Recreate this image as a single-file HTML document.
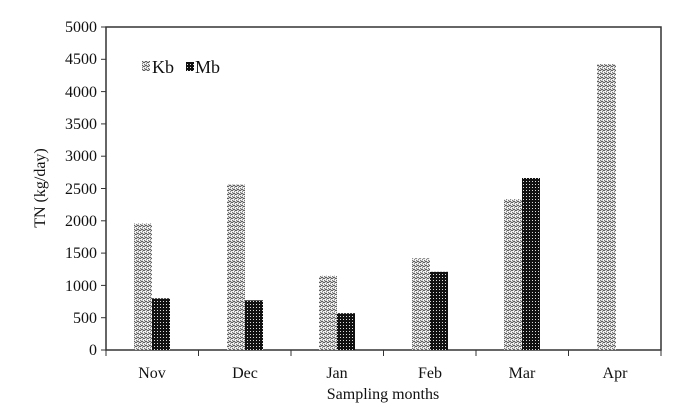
<!DOCTYPE html>
<html><head><style>body{margin:0;background:#fff}svg{display:block}</style></head><body>
<svg width="700" height="411" xmlns="http://www.w3.org/2000/svg" font-family="'Liberation Serif', serif">
<defs>
<pattern id="kb" width="4" height="4" patternUnits="userSpaceOnUse">
<rect width="4" height="4" fill="#fff"/>
<path d="M0 3 L2 1 L4 3" stroke="#555" stroke-width="1" fill="none"/>
<rect x="0" y="0" width="1" height="1" fill="#777"/>
<rect x="2" y="3" width="1" height="1" fill="#888"/>
</pattern>
<pattern id="mb" width="3" height="3" patternUnits="userSpaceOnUse">
<rect width="3" height="3" fill="#111"/>
<rect x="1" y="1" width="1" height="1" fill="#ddd"/>
</pattern>
</defs>
<rect x="106" y="27" width="555" height="323" fill="none" stroke="#333" stroke-width="1.5"/>
<g stroke="#333" stroke-width="1">
<line x1="101" y1="350" x2="106" y2="350"/><line x1="101" y1="317.7" x2="106" y2="317.7"/><line x1="101" y1="285.4" x2="106" y2="285.4"/><line x1="101" y1="253.1" x2="106" y2="253.1"/><line x1="101" y1="220.8" x2="106" y2="220.8"/><line x1="101" y1="188.5" x2="106" y2="188.5"/><line x1="101" y1="156.2" x2="106" y2="156.2"/><line x1="101" y1="123.9" x2="106" y2="123.9"/><line x1="101" y1="91.6" x2="106" y2="91.6"/><line x1="101" y1="59.3" x2="106" y2="59.3"/><line x1="101" y1="27" x2="106" y2="27"/>
<line x1="106" y1="350" x2="106" y2="356"/><line x1="198.5" y1="350" x2="198.5" y2="356"/><line x1="291" y1="350" x2="291" y2="356"/><line x1="383.5" y1="350" x2="383.5" y2="356"/><line x1="476" y1="350" x2="476" y2="356"/><line x1="568.5" y1="350" x2="568.5" y2="356"/><line x1="661" y1="350" x2="661" y2="356"/>
</g>
<g font-size="16" fill="#111" text-anchor="end">
<text x="97" y="355">0</text><text x="97" y="323">500</text><text x="97" y="291">1000</text><text x="97" y="258">1500</text><text x="97" y="226">2000</text><text x="97" y="194">2500</text><text x="97" y="161">3000</text><text x="97" y="129">3500</text><text x="97" y="97">4000</text><text x="97" y="64">4500</text><text x="97" y="32">5000</text>
</g>
<g font-size="16" fill="#111" text-anchor="middle">
<text x="152" y="378">Nov</text><text x="245" y="378">Dec</text><text x="337" y="378">Jan</text><text x="430" y="378">Feb</text><text x="522" y="378">Mar</text><text x="615" y="378">Apr</text>
<text x="383" y="399">Sampling months</text>
<text transform="translate(45 188) rotate(-90)">TN (kg/day)</text>
</g>
<g>
<rect x="134" y="223.4" width="18" height="126.6" fill="url(#kb)"/><rect x="152" y="298.3" width="18" height="51.7" fill="url(#mb)"/>
<rect x="227" y="184.6" width="18" height="165.4" fill="url(#kb)"/><rect x="245" y="300.3" width="18" height="49.7" fill="url(#mb)"/>
<rect x="319" y="275.7" width="18" height="74.3" fill="url(#kb)"/><rect x="337" y="313.2" width="18" height="36.8" fill="url(#mb)"/>
<rect x="412" y="258.3" width="18" height="91.7" fill="url(#kb)"/><rect x="430" y="271.8" width="18" height="78.2" fill="url(#mb)"/>
<rect x="504" y="199" width="18" height="151" fill="url(#kb)"/><rect x="522" y="178" width="18" height="172" fill="url(#mb)"/>
<rect x="597" y="64" width="19" height="286" fill="url(#kb)"/>
</g>
<rect x="142" y="61" width="8" height="10" fill="url(#kb)"/>
<text x="152" y="73" font-size="18" fill="#111">Kb</text>
<rect x="186" y="62" width="8" height="9" fill="url(#mb)"/>
<text x="195" y="73" font-size="18" fill="#111">Mb</text>
</svg>
</body></html>
